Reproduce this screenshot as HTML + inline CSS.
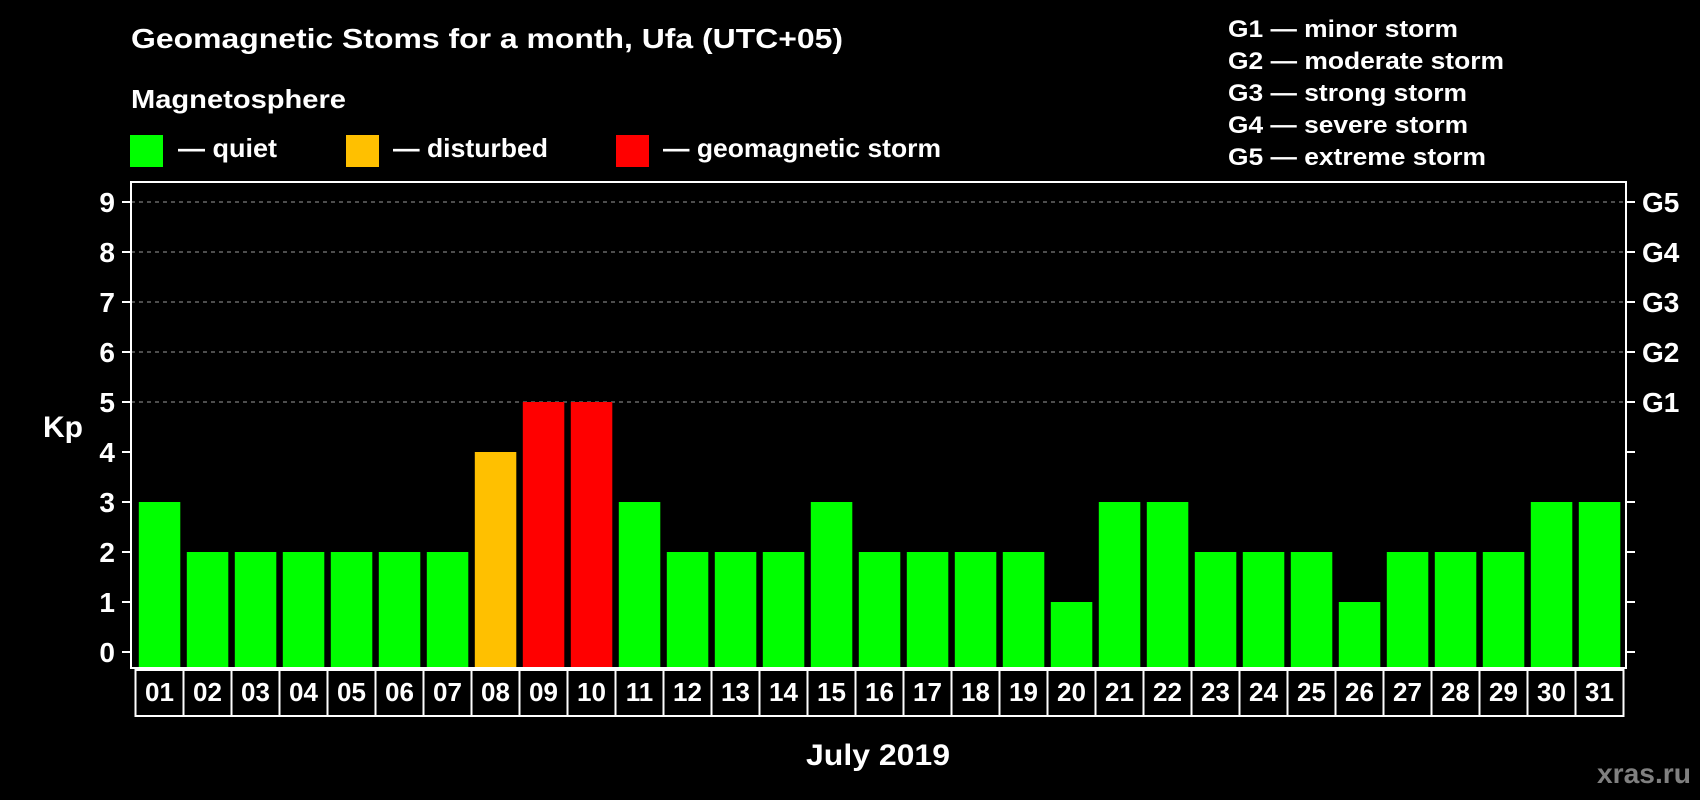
<!DOCTYPE html>
<html><head><meta charset="utf-8"><style>
html,body{margin:0;padding:0;background:#000;}
svg{display:block;font-family:"Liberation Sans",Arial,sans-serif;font-weight:bold;}
</style></head><body>
<svg id="chart" width="1700" height="800" viewBox="0 0 1700 800">
<rect x="0" y="0" width="1700" height="800" fill="#000"/>
<text x="131" y="48" font-size="28" fill="#fff" textLength="712" lengthAdjust="spacingAndGlyphs">Geomagnetic Stoms for a month, Ufa (UTC+05)</text>
<text x="131" y="108" font-size="26" fill="#fff" textLength="215" lengthAdjust="spacingAndGlyphs">Magnetosphere</text>
<g>
<rect x="130" y="135" width="33" height="32" fill="#00ff00"/>
<text x="178" y="157" font-size="26" fill="#fff" textLength="99" lengthAdjust="spacingAndGlyphs">— quiet</text>
</g>
<g>
<rect x="346" y="135" width="33" height="32" fill="#ffc000"/>
<text x="393" y="157" font-size="26" fill="#fff" textLength="155" lengthAdjust="spacingAndGlyphs">— disturbed</text>
</g>
<g>
<rect x="616" y="135" width="33" height="32" fill="#ff0000"/>
<text x="663" y="157" font-size="26" fill="#fff" textLength="278" lengthAdjust="spacingAndGlyphs">— geomagnetic storm</text>
</g>
<g font-size="24" fill="#fff">
<text x="1228" y="37" textLength="230" lengthAdjust="spacingAndGlyphs">G1 — minor storm</text>
<text x="1228" y="69" textLength="276" lengthAdjust="spacingAndGlyphs">G2 — moderate storm</text>
<text x="1228" y="101" textLength="239" lengthAdjust="spacingAndGlyphs">G3 — strong storm</text>
<text x="1228" y="133" textLength="240" lengthAdjust="spacingAndGlyphs">G4 — severe storm</text>
<text x="1228" y="165" textLength="258" lengthAdjust="spacingAndGlyphs">G5 — extreme storm</text>
</g>
<text x="43" y="437" font-size="30" fill="#fff" textLength="40" lengthAdjust="spacingAndGlyphs">Kp</text>
<text x="878" y="765" font-size="30" fill="#fff" text-anchor="middle" textLength="144" lengthAdjust="spacingAndGlyphs">July 2019</text>
<text x="1691" y="783" font-size="28" fill="#808080" text-anchor="end" textLength="94" lengthAdjust="spacingAndGlyphs">xras.ru</text>
<g id="grid"></g>
<g id="bars"></g>
<g id="axes"></g>
<g id="days"></g>
</svg>
<script>
const days = ["01","02","03","04","05","06","07","08","09","10","11","12","13","14","15","16","17","18","19","20","21","22","23","24","25","26","27","28","29","30","31"];
const kpValues = [3,2,2,2,2,2,2,4,5,5,3,2,2,2,3,2,2,2,2,1,3,3,2,2,2,1,2,2,2,3,3];
const yTicks = [0,1,2,3,4,5,6,7,8,9];
const gLabels = ["G1","G2","G3","G4","G5"];
const gLevels = [5,6,7,8,9];

const NS = "http://www.w3.org/2000/svg";
const plotL = 131, plotR = 1626, plotT = 182, plotB = 668;
const y0 = 652, unit = 50;
const barStart = 138.8, pitch = 48, barW = 41.5;
function yScale(v){ return y0 - v*unit; }
function xScale(i){ return barStart + i*pitch; }
function mk(tag, attrs, parent){
  const e = document.createElementNS(NS, tag);
  for (const k in attrs) e.setAttribute(k, attrs[k]);
  parent.appendChild(e);
  return e;
}
function colorFor(v){ return v >= 5 ? "#ff0000" : (v >= 4 ? "#ffc000" : "#00ff00"); }

const grid = document.getElementById("grid");
gLevels.forEach(function(v){
  const l = mk("line", {x1: plotL, x2: plotR, y1: yScale(v), y2: yScale(v), stroke: "#9a9a9a", "stroke-width": 1, "stroke-dasharray": "4,4"}, grid);
  
  
});

const bars = document.getElementById("bars");
kpValues.forEach(function(v, i){
  const r = mk("rect", {x: xScale(i), y: yScale(v), width: barW, height: plotB - yScale(v), fill: colorFor(v)}, bars);
  
  
});

const axes = document.getElementById("axes");
const frame = mk("rect", {x: plotL, y: plotT, width: plotR - plotL, height: plotB - plotT, fill: "none", stroke: "#fff", "stroke-width": 2}, axes);


yTicks.forEach(function(v){
  const y = yScale(v);
  const t1 = mk("line", {x1: plotL - 9, x2: plotL, y1: y, y2: y, stroke: "#fff", "stroke-width": 2}, axes);
  
  
  const t2 = mk("line", {x1: plotR, x2: plotR + 9, y1: y, y2: y, stroke: "#fff", "stroke-width": 2}, axes);
  
  
  const tx = mk("text", {x: 115, y: y + 10, "font-size": 28, fill: "#fff", "text-anchor": "end"}, axes);
  tx.textContent = String(v);
  
  
});
gLabels.forEach(function(g, i){
  const tx = mk("text", {x: 1642, y: yScale(gLevels[i]) + 10, "font-size": 28, fill: "#fff"}, axes);
  tx.textContent = g;
  
  
});

const dayG = document.getElementById("days");
const boxL = 135.5, boxT = 670, boxB = 716;
days.forEach(function(d, i){
  const bx = boxL + i*pitch;
  const r = mk("rect", {x: bx, y: boxT, width: pitch, height: boxB - boxT, fill: "none", stroke: "#fff", "stroke-width": 2}, dayG);
  
  
  const t = mk("text", {x: bx + pitch/2, y: 701, "font-size": 26, fill: "#fff", "text-anchor": "middle"}, dayG);
  t.textContent = d;
  
  
});
</script>
</body></html>
